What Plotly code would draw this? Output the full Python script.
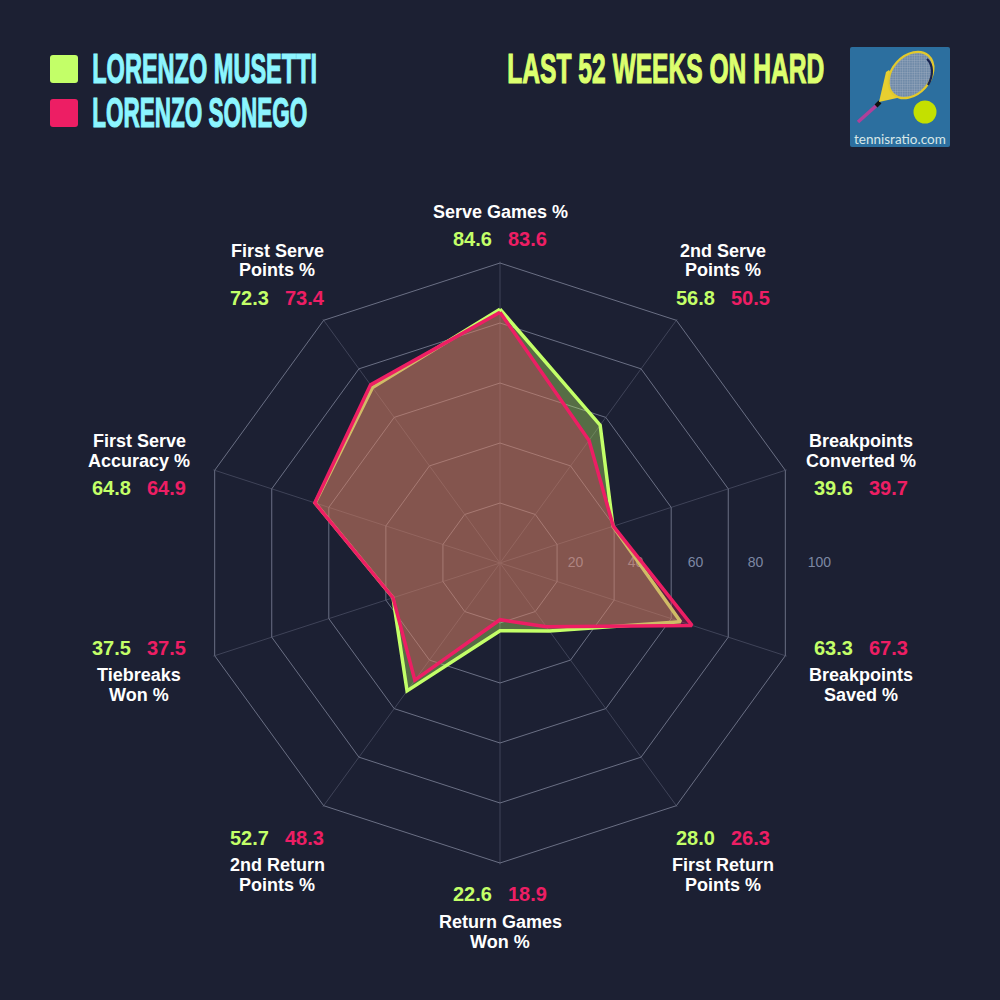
import base64
import plotly.graph_objects as go

categories = ['Serve Games %', '2nd Serve<br>Points %', 'Breakpoints<br>Converted %', 'Breakpoints<br>Saved %',
              'First Return<br>Points %', 'Return Games<br>Won %', '2nd Return<br>Points %', 'Tiebreaks<br>Won %',
              'First Serve<br>Accuracy %', 'First Serve<br>Points %']
musetti = [84.6, 56.8, 39.6, 63.3, 28.0, 22.6, 52.7, 37.5, 64.8, 72.3]
sonego = [83.6, 50.5, 39.7, 67.3, 26.3, 18.9, 48.3, 37.5, 64.9, 73.4]
radial_ticks = [20, 40, 60, 80, 100]
player_names = ['LORENZO MUSETTI', 'LORENZO SONEGO']
chart_title = 'LAST 52 WEEKS ON HARD'

bg_color = '#1c2033'
green = '#c3ff68'
red = '#ed1e64'
cyan = '#8cf5ff'
title_color = '#dcff6e'
grid_color = '#6a6f84'
font_main = 'Liberation Sans'

# label centre x, y of first label line, y of value row
label_layout = [
    (500, 212, 239), (723, 251, 298), (861, 441, 488), (861, 675, 648),
    (723, 865, 838), (500, 922, 894), (277, 865, 838), (139, 675, 648),
    (139, 441, 488), (277, 251, 298),
]
line_gap = 19.5


def px_x(x):
    return x / 1000


def px_y(y):
    return 1 - y / 1000


def note(text, x, y, size, color, bold=True, family=font_main):
    return dict(text=f'<b>{text}</b>' if bold else text, x=px_x(x), y=px_y(y), xref='paper', yref='paper',
                showarrow=False, xanchor='center', yanchor='middle',
                font=dict(family=family, size=size, color=color))


def rounded_square(x0, y0, size, rad, color):
    x1, y1 = x0 + size, y0 + size
    pts = [f'M{px_x(x0 + rad)},{px_y(y0)}', f'L{px_x(x1 - rad)},{px_y(y0)}',
           f'Q{px_x(x1)},{px_y(y0)} {px_x(x1)},{px_y(y0 + rad)}', f'L{px_x(x1)},{px_y(y1 - rad)}',
           f'Q{px_x(x1)},{px_y(y1)} {px_x(x1 - rad)},{px_y(y1)}', f'L{px_x(x0 + rad)},{px_y(y1)}',
           f'Q{px_x(x0)},{px_y(y1)} {px_x(x0)},{px_y(y1 - rad)}', f'L{px_x(x0)},{px_y(y0 + rad)}',
           f'Q{px_x(x0)},{px_y(y0)} {px_x(x0 + rad)},{px_y(y0)}', 'Z']
    return dict(type='path', xref='paper', yref='paper', path=' '.join(pts), fillcolor=color, line=dict(width=0))


logo_svg = '''<svg xmlns="http://www.w3.org/2000/svg" width="100" height="100" viewBox="0 0 100 100">
<defs><pattern id="m" width="2.4" height="2.4" patternUnits="userSpaceOnUse" patternTransform="rotate(-42)">
<rect width="2.4" height="2.4" fill="#6f8aa8"/><path d="M0 0H2.4M0 0V2.4" stroke="#a9b6c4" stroke-width="0.6"/></pattern></defs>
<rect width="100" height="100" rx="2" fill="#2c6f9f"/>
<line x1="8" y1="75" x2="27" y2="58" stroke="#b0409a" stroke-width="3.5"/>
<line x1="26" y1="59" x2="30" y2="55" stroke="#111" stroke-width="4"/>
<polygon points="36,25 39,23 56,49 29,55" fill="#e8cf30"/>
<ellipse cx="61" cy="28" rx="26" ry="19" transform="rotate(-48 61 28)" fill="url(#m)" stroke="#e2c92c" stroke-width="2.2"/>
<path d="M77 12 A26 19 -48 0 1 78 38" fill="none" stroke="#16224e" stroke-width="2.2"/>
<circle cx="75" cy="65" r="11.5" fill="#c4e000"/>
</svg>'''
logo_uri = 'data:image/svg+xml;base64,' + base64.b64encode(logo_svg.encode()).decode()

fig = go.Figure()

# tick labels go in the lower polar so the radar fill sits over them
fig.add_trace(go.Scatterpolar(r=radial_ticks, theta=[0] * len(radial_ticks), mode='text',
                              text=[f'\u00a0\u00a0{t}' for t in radial_ticks], textposition='middle right',
                              textfont=dict(family=font_main, size=14, color='#7d88a3'),
                              subplot='polar', showlegend=False, hoverinfo='skip'))

closed = categories + categories[:1]
fig.add_trace(go.Scatterpolar(r=musetti + musetti[:1], theta=closed, mode='lines', name=player_names[0],
                              line=dict(color=green, width=3.5), fill='toself',
                              fillcolor='rgba(195,255,104,0.35)', subplot='polar2'))
fig.add_trace(go.Scatterpolar(r=sonego + sonego[:1], theta=closed, mode='lines', name=player_names[1],
                              line=dict(color=red, width=3.5), fill='toself',
                              fillcolor='rgba(237,30,100,0.3)', subplot='polar2'))

annotations = []
for cat, m, s, (cx, ly, vy) in zip(categories, musetti, sonego, label_layout):
    for i, part in enumerate(cat.split('<br>')):
        annotations.append(note(part, cx, ly + i * line_gap, 18, 'white'))
    annotations.append(note(f'{m:.1f}', cx - 27.5, vy, 20, green))
    annotations.append(note(f'{s:.1f}', cx + 27.5, vy, 20, red))

annotations.append(note(player_names[0], 204.5, 69, 42, cyan))
annotations.append(note(player_names[1], 199.5, 113, 42, cyan))
annotations.append(note(chart_title, 665.5, 68, 42, title_color))
annotations.append(note('tennisratio.com', 900, 139, 13.5, '#d8e8e8', bold=False, family='Lato'))

shapes = [rounded_square(50, 55, 28, 3, green), rounded_square(50, 99, 28, 3, red)]

# 3 px per unit; range runs past 100 because plotly drops a grid line sitting on the axis end
polar_domain = dict(x=[0.1985, 0.8015], y=[0.1355, 0.7385])
radial_range = [0, 100.5]
fig.update_layout(
    width=1000, height=1000,
    margin=dict(l=0, r=0, t=0, b=0),
    paper_bgcolor=bg_color,
    plot_bgcolor=bg_color,
    showlegend=False,
    annotations=annotations,
    shapes=shapes,
    images=[dict(source=logo_uri, xref='paper', yref='paper', x=px_x(850), y=px_y(47),
                 sizex=0.1, sizey=0.1, xanchor='left', yanchor='top', layer='below')],
    polar=dict(
        domain=polar_domain,
        bgcolor='rgba(0,0,0,0)',
        radialaxis=dict(range=radial_range, visible=False),
        angularaxis=dict(visible=False, thetaunit='degrees', rotation=0),
    ),
    polar2=dict(
        domain=polar_domain,
        bgcolor='rgba(0,0,0,0)',
        gridshape='linear',
        radialaxis=dict(range=radial_range, tickvals=radial_ticks, showticklabels=False, ticks='',
                        showline=False, gridcolor=grid_color, gridwidth=1),
        angularaxis=dict(categoryorder='array', categoryarray=categories, direction='clockwise', rotation=90,
                         showticklabels=False, ticks='', showline=False, gridcolor='#3f4358', gridwidth=1),
    ),
)

# squeeze the headline text down to the condensed widths, and drop the page margin
post_script = """
document.body.style.margin = '0';
var widths = {'LORENZO MUSETTI': 225, 'LORENZO SONEGO': 215, 'LAST 52 WEEKS ON HARD': 317};
document.querySelectorAll('.annotation-text').forEach(function (t) {
    var w = widths[t.textContent];
    if (w) {
        var cx = parseFloat(t.getAttribute('x')) || 0;
        var s = w / t.getComputedTextLength();
        t.setAttribute('transform', 'translate(' + cx + ',0) scale(' + s + ',1) translate(' + (-cx) + ',0)');
        t.style.stroke = t.style.fill;
        t.style.strokeWidth = '1.2px';
    }
});
"""

fig.write_html("out.html", post_script=post_script, config=dict(displayModeBar=False))
